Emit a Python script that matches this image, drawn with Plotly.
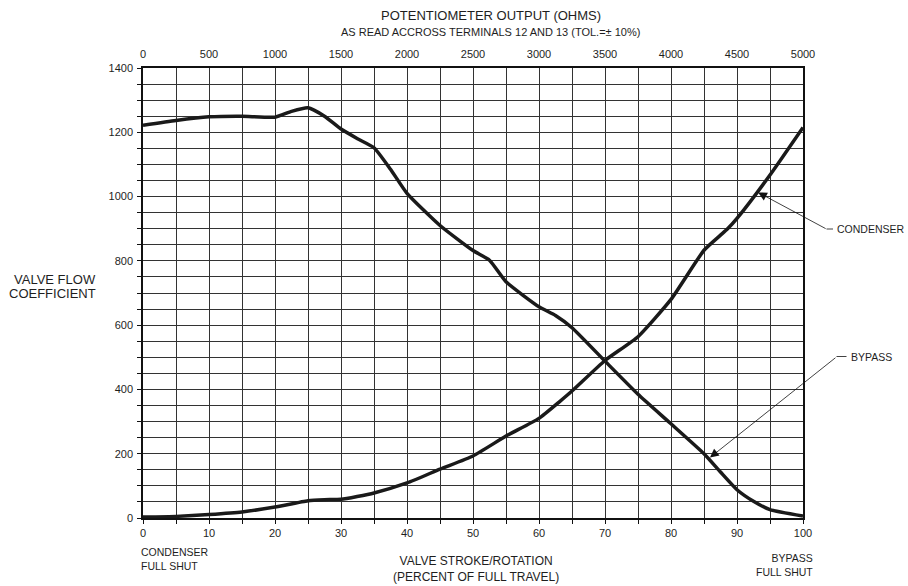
import plotly.graph_objects as go

# ---- data ----
stroke_condenser = [0, 5, 10, 15, 20, 25, 27.5, 30, 35, 40, 45, 50, 55, 60, 63, 65, 70, 75, 80, 85, 87.5, 88.5, 90, 95, 100]
cv_condenser = [3, 5, 11, 19, 34, 54, 57, 58, 78, 109, 152, 193, 255, 310, 360, 395, 490, 564, 680, 833, 880, 898, 932, 1067, 1215]

stroke_bypass = [0, 5, 10, 15, 20, 22.5, 25, 27.5, 30, 32.5, 35, 37.5, 40, 45, 50, 52.5, 55, 60, 62.5, 65, 70, 75, 80, 85, 87.5, 90, 92.5, 95, 100]
cv_bypass = [1222, 1237, 1248, 1250, 1247, 1265, 1276, 1250, 1210, 1180, 1152, 1085, 1010, 910, 832, 802, 735, 657, 630, 592, 488, 385, 293, 200, 143, 88, 52, 26, 6]

x_ticks = list(range(0, 101, 5))
x_ticklabels = [str(v) if v % 10 == 0 else "" for v in x_ticks]
y_ticks = list(range(0, 1401, 50))
y_ticklabels = [str(v) if v % 200 == 0 else "" for v in y_ticks]
ohm_ticks = list(range(0, 5001, 500))
ohm_ticklabels = [str(v) for v in ohm_ticks]

FONT = "Liberation Sans, Arial, sans-serif"
TXT = "#1e1e1e"
W, H = 908, 586
ML, MR, MT, MB = 143, 105, 68, 68
PW, PH = W - ML - MR, H - MT - MB


def px(x):
    return (x - ML) / PW


def py(y):
    return (H - MB - y) / PH


fig = go.Figure()
fig.add_trace(go.Scatter(x=stroke_condenser, y=cv_condenser, mode="lines",
                         line=dict(color="#1a1a1a", width=3.5, shape="spline", smoothing=0.5),
                         name="CONDENSER", hoverinfo="x+y"))
fig.add_trace(go.Scatter(x=stroke_bypass, y=cv_bypass, mode="lines",
                         line=dict(color="#1a1a1a", width=3.5, shape="spline", smoothing=0.5),
                         name="BYPASS", hoverinfo="x+y"))
# invisible trace to activate the top (ohms) axis
fig.add_trace(go.Scatter(x=[ohm_ticks[0], ohm_ticks[-1]], y=[0, 0], xaxis="x2", mode="lines",
                         line=dict(width=0), opacity=0, hoverinfo="skip", showlegend=False))

ann = []


def text(t, x, y, size, anchor="center"):
    ann.append(dict(text=t, x=px(x), y=py(y), xref="paper", yref="paper",
                    xanchor=anchor, yanchor="middle", showarrow=False, align=anchor,
                    font=dict(family=FONT, size=size, color=TXT)))


text("POTENTIOMETER OUTPUT (OHMS)", 491, 15, 13)
text("AS READ ACCROSS TERMINALS 12 AND 13 (TOL.=± 10%)", 490, 32, 11)
text("VALVE FLOW", 98, 279, 13, "right")
text("COEFFICIENT", 98, 293, 13, "right")
text("CONDENSER<br>FULL SHUT", 139, 559, 10.5, "left")
text("VALVE STROKE/ROTATION<br>(PERCENT OF FULL TRAVEL)", 476, 569, 12)
text("BYPASS<br>FULL SHUT", 815, 565, 10.5, "right")
text("CONDENSER", 835, 229, 10.5, "left")
text("BYPASS", 849, 357, 10.5, "left")

# leader arrows
ann.append(dict(x=93.2, y=1013, xref="x", yref="y", text="", showarrow=True,
                ax=69, ay=37, arrowhead=2, arrowsize=2.2, arrowwidth=0.8, arrowcolor="#111"))
ann.append(dict(x=85.9, y=188, xref="x", yref="y", text="", showarrow=True,
                ax=127, ay=-101, arrowhead=2, arrowsize=2.2, arrowwidth=0.8, arrowcolor="#111"))

shapes = [
    dict(type="line", xref="paper", yref="paper", x0=px(826.5), x1=px(833), y0=py(229), y1=py(229),
         line=dict(color="#111", width=0.8)),
    dict(type="line", xref="paper", yref="paper", x0=px(836.5), x1=px(846.5), y0=py(356.5), y1=py(356.5),
         line=dict(color="#111", width=0.8)),
]

fig.update_layout(
    width=W, height=H,
    margin=dict(l=ML, r=MR, t=MT, b=MB),
    paper_bgcolor="white", plot_bgcolor="white",
    showlegend=False,
    font=dict(family=FONT, size=11, color=TXT),
    annotations=ann, shapes=shapes,
    xaxis=dict(range=[0, 100], tickmode="array", tickvals=x_ticks, ticktext=x_ticklabels,
               showgrid=True, gridcolor="#333333", gridwidth=1,
               showline=True, linecolor="#111", linewidth=1.5, mirror=True,
               ticks="outside", ticklen=4, tickcolor="#111", tickwidth=1,
               tickfont=dict(family=FONT, size=11, color=TXT), zeroline=False),
    xaxis2=dict(range=[0, 5000], overlaying="x", side="top", tickmode="array",
                tickvals=ohm_ticks, ticktext=ohm_ticklabels, showgrid=False, zeroline=False,
                ticks="", ticklabelstandoff=7, showline=False,
                tickfont=dict(family=FONT, size=11, color=TXT)),
    yaxis=dict(range=[0, 1400], tickmode="array", tickvals=y_ticks, ticktext=y_ticklabels,
               showgrid=True, gridcolor="#333333", gridwidth=1,
               showline=True, linecolor="#111", linewidth=1.5, mirror=True,
               ticks="outside", ticklen=4, tickcolor="#111", tickwidth=1,
               ticklabelstandoff=2,
               tickfont=dict(family=FONT, size=11, color=TXT), zeroline=False),
)

fig.write_html("out.html", config={"displayModeBar": False},
               post_script="document.body.style.margin='0';document.body.style.overflow='hidden';")
